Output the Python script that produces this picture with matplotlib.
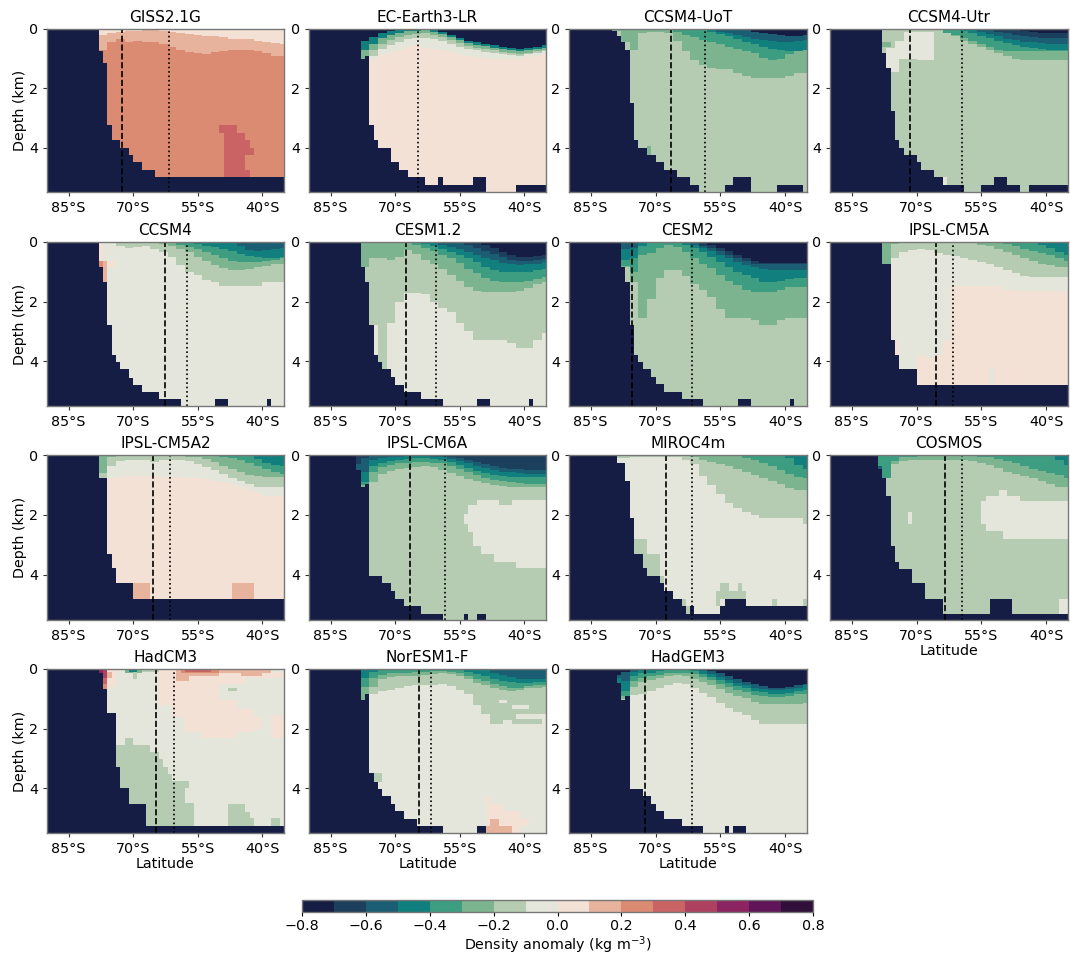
import numpy as np
import matplotlib
matplotlib.use('Agg')
import matplotlib.pyplot as plt
from matplotlib.colors import ListedColormap, BoundaryNorm

models = ['GISS2.1G', 'EC-Earth3-LR', 'CCSM4-UoT', 'CCSM4-Utr', 'CCSM4', 'CESM1.2', 'CESM2', 'IPSL-CM5A',
          'IPSL-CM5A2', 'IPSL-CM6A', 'MIROC4m', 'COSMOS', 'HadCM3', 'NorESM1-F', 'HadGEM3']
dashed = [-72.6, None, -66.4, -71.4, -62.5, -67.5, -75.5, -65.6, -65.5, -66.5, -67.5, -63.5, -64.6, -64.5, -72.5]
dotted = [-61.6, -64.6, -58.5, -59.4, -57.5, -60.5, -61.5, -61.6, -61.5, -58.5, -61.5, -59.4, -60.6, -61.6, -61.5]

bin_colors = ['#161d45', '#1b3f5c', '#1b5d72', '#117f7d', '#3c9d80', '#7cb48f', '#b6ccb2', '#e5e6db',
              '#f4e1d6', '#e7b39d', '#db8b71', '#ca6363', '#ae4060', '#8b2460', '#5f1557', '#30103a']
bin_edges = np.round(np.arange(-0.8, 0.81, 0.1), 1)
cbar_ticks = [-0.8, -0.6, -0.4, -0.2, 0.0, 0.2, 0.4, 0.6, 0.8]
xtick_vals = [-85, -70, -55, -40]
xtick_labels = ['85°S', '70°S', '55°S', '40°S']
ytick_vals = [0, 2, 4]

# layer bounds are depth (km) per 2 deg column, the last value is the column at 36S
col_lats = np.arange(-80, -34, 2)

# sea floor as (lat where it starts, depth)
giss_bed = [(-78, .75), (-77, 1.15), (-76, 3.25), (-75, 3.75), (-73, 4), (-71, 4.25), (-70, 4.5), (-68, 4.75), (-65, 5)]
giss_deep = 0.2
giss_layers = [
    (0.1, [0, .7, .42, .36, .42, .4, .43, .46, .5, .6, .72, .78, .82, .86, .78, .76, .72, .7, .73, .75, .8, .9, .93]),
    (0.0, [0, .2, .15, .1, .08, .07, .06, .06, .07, .1, .14, .17, .2, .23, .26, .28, .32, .35, .36, .4, .44, .48, .5]),
    (-0.1, [.03, .03, .03, .03, .03, .03, .03, .03, .03, .03, .03, .03]),
]
giss_patches = [(0.3, -50, -46, 3.25, 3.5), (0.3, -49, -44, 3.5, 3.75), (0.3, -49, -43, 3.75, 4), (0.3, -49, -42, 4, 4.25),
                (0.3, -49, -44, 4.25, 4.75), (0.3, -49, -43, 4.75, 5), (-0.3, -78, -76, 0, .05)]

ec_bed = [(-78, 1.02), (-77, .91), (-76, 3.25), (-75, 3.75), (-74, 4), (-71, 4.5), (-69, 4.75), (-67, 5), (-63, 5.25),
          (-60, 5), (-59, 5.25), (-52, 5), (-49, 5.5), (-42, 5.25)]
ec_deep = 0.0
ec_layers = [
    (-0.1, [0, 1.05, 1.0, .88, .82, .7, .6, .53, .62, .68, .72, .78, .85, .92, .95, .97, 1.0, 1.03, 1.03, 1.0, .95, .9, .85]),
    (-0.2, [0, 1.05, .9, .68, .55, .43, .35, .3, .3, .33, .4, .5, .6, .68, .73, .77, .8, .85, .88, .9, .85, .8, .76]),
    (-0.3, [0, 1.0, .7, .5, .38, .28, .2, .17, .16, .2, .28, .38, .48, .57, .63, .67, .72, .78, .82, .84, .79, .74, .7]),
    (-0.5, [0, .72, .5, .3, .2, .12, .08, .07, .06, .1, .17, .27, .38, .48, .54, .58, .63, .68, .73, .76, .72, .67, .63]),
    (-0.8, [0, .4, .27, .14, .07, .03, .02, .02, .02, .04, .1, .2, .3, .4, .46, .5, .55, .6, .65, .68, .64, .6, .56]),
]
ec_patches = []

uot_bed = [(-80, .07), (-79, .25), (-78, .45), (-77, .73), (-76, 2.5), (-75, 3.75), (-74, 4), (-72, 4.25), (-70, 4.5),
           (-68, 4.75), (-65, 5), (-62, 5.25), (-60, 5.5), (-54, 5.25), (-52, 5), (-48, 5.5), (-42, 5.25), (-36, 5.5)]
uot_deep = -0.2
uot_layers = [
    (-0.3, [.07, .45, .73, .12, .1, .1, .12, .4, .75, 1.05, 1.2, 1.33, 1.35, 1.35, 1.48, 1.6, 1.66, 1.66, 1.66, 1.66, 1.6, 1.47, 1.47]),
    (-0.4, [.03, .1, .2, .28, .37, .42, .5, .6, .68, .76, .82, .98, 1.04, 1.0, .85, .75, .73]),
    (-0.5, [.1, .18, .25, .33, .42, .5, .6, .68, .72, .74, .74, .73]),
    (-0.6, [.03, .06, .1, .15, .2, .27, .33, .38, .4, .42, .42, .4, .38]),
    (-0.8, [.02, .05, .1, .15, .18, .2, .22, .22, .2]),
]
uot_patches = [(-0.3, -72, -71, 3.95, 4.25)]

utr_bed = [(-78, .8), (-77, 1.31), (-76, 2.76), (-75, 3.75), (-74, 4), (-73, 4.25), (-70, 4.5), (-69, 4.75), (-66, 5),
           (-64, 5.25), (-59, 5.5), (-55, 5.25), (-52, 5), (-49, 5.25), (-46, 5.5), (-44, 5.25)]
utr_deep = -0.2
utr_layers = [
    (-0.3, [0, .05, .05, .05, .05, .05, .05, .05, .12, .25, .4, .5, .6, .7, .82, .92, 1.02, 1.05, 1.05, 1.05, 1.05, 1.05, 1.05]),
    (-0.4, [.02, .05, .12, .2, .3, .4, .5, .6, .72, .75, .75, .75, .75, .75, .75, .75, .75]),
    (-0.5, [.08, .15, .22, .3, .4, .48, .55, .6, .65, .68, .7, .72, .73]),
    (-0.6, [.05, .1, .17, .25, .32, .38, .42, .45, .47, .5, .5, .5]),
    (-0.7, [.05, .1, .15, .2, .23, .27, .3, .3, .3, .3]),
    (-0.8, [.02, .04, .07, .1, .13, .15, .15, .13]),
]
utr_patches = [(-0.1, -77, -74, .65, 1.45), (-0.1, -75, -70, .4, 1.0), (-0.1, -73, -66, .1, .85), (-0.1, -70, -66, .1, 1.05),
               (-0.3, -78, -76, .42, .6), (-0.1, -65.5, -65, 4.75, 5), (-0.1, -64, -63, 5, 5.25)]

ccsm_bed = [(-78, .85), (-77, 1.35), (-76, 2.79), (-75, 3.79), (-74, 4.02), (-73, 4.28), (-71, 4.54), (-70, 4.79), (-68, 5.03),
            (-64, 5.28), (-59, 5.5), (-51, 5.28), (-48, 5.5), (-39, 5.28), (-38, 5.5)]
ccsm_deep = -0.1
ccsm_layers = [
    (-0.2, [0, .05, .05, .12, .2, .17, .15, .22, .35, .5, .78, 1.0, 1.1, 1.28, 1.35, 1.48, 1.48, 1.48, 1.48, 1.48, 1.35, 1.35, 1.35]),
    (-0.3, [0, 0, 0, 0, 0, .03, .03, .04, .08, .15, .25, .35, .5, .65, .78, .88, .92, .92, .9, .85, .8, .75, .73]),
    (-0.4, [.1, .17, .25, .35, .45, .55, .62, .68, .68, .68, .65, .6, .56]),
    (-0.5, [.05, .08, .12, .17, .22, .3, .4, .48, .5, .52, .52, .5]),
    (-0.6, [.15, .27, .3, .28, .22, .2]),
]
ccsm_patches = [(0, -78, -77, 0, .62), (0.2, -78, -77, .62, .85), (0.1, -77, -76, .62, 1.35), (0, -76, -74, .62, .85)]

cesm12_bed = [(-78, .85), (-77, 1.35), (-76, 2.79), (-75, 3.79), (-74, 4.02), (-73, 4.28), (-71, 4.53), (-70, 4.79), (-68, 5.03),
              (-64, 5.28), (-59, 5.5), (-51, 5.28), (-48, 5.5), (-39, 5.28), (-38, 5.5)]
cesm12_deep = -0.1
cesm12_layers = [
    (-0.2, [0, 1.35, 2.8, 4.3, 2.7, 2.0, 1.7, 1.7, 1.75, 2.0, 2.2, 2.35, 2.7, 3.0, 3.28, 3.28, 3.28, 3.28, 3.4, 3.54, 3.54, 3.3, 3.05]),
    (-0.3, [0, .85, .55, .55, .6, .5, .27, .4, .6, .75, .9, 1.1, 1.3, 1.5, 1.65, 1.68, 1.68, 1.68, 1.68, 1.65, 1.55, 1.4, 1.35]),
    (-0.4, [.05, .1, .2, .3, .42, .55, .7, .9, 1.05, 1.2, 1.3, 1.35, 1.35, 1.35, 1.3, 1.22, 1.18]),
    (-0.5, [.08, .14, .22, .32, .42, .55, .68, .82, .92, 1.0, 1.0, 1.0, 1.0, .95, .9]),
    (-0.6, [.05, .1, .18, .25, .33, .42, .52, .6, .7, .75, .77, .76, .72, .68]),
    (-0.7, [.1, .2, .3, .4, .5, .6, .65, .63, .6, .58]),
    (-0.8, [.03, .1, .2, .35, .45, .5, .5, .47, .45]),
]
cesm12_patches = []

cesm2_bed = [(-78, .83), (-77, 1.34), (-76, 2.79), (-75, 3.78), (-74, 4.02), (-73, 4.27), (-71, 4.52), (-70, 4.76), (-68, 5.02),
             (-64, 5.27), (-59, 5.5), (-51, 5.27), (-48, 5.5), (-39, 5.27), (-38, 5.5)]
cesm2_deep = -0.2
cesm2_layers = [
    (-0.3, [0, .83, 1.34, 2.54, 1.9, 1.2, .95, .95, 1.15, 1.4, 1.6, 1.85, 2.25, 2.54, 2.54, 2.54, 2.6, 2.79, 2.79, 2.6, 2.54, 2.54, 2.54]),
    (-0.4, [0, .8, 1.0, .42, .38, .2, .1, .18, .35, .55, .72, .88, 1.1, 1.3, 1.45, 1.6, 1.67, 1.67, 1.67, 1.62, 1.5, 1.5, 1.5]),
    (-0.5, [0, .6, .55, .15, .05, .03, .03, .05, .1, .2, .35, .5, .68, .85, 1.0, 1.1, 1.2, 1.34, 1.34, 1.3, 1.22, 1.2, 1.19]),
    (-0.6, [0, .25, .2, 0, 0, 0, 0, 0, .05, .1, .2, .3, .42, .55, .68, .78, .85, .9, .94, .94, .94, .94, .94]),
    (-0.7, [.05, .12, .2, .3, .42, .55, .66, .72, .72, .72, .72, .72, .72, .72]),
    (-0.8, [.02, .05, .1, .2, .3, .42, .55, .66, .7, .7, .7, .7, .7, .7]),
]
cesm2_patches = []

cm5a_bed = [(-78, .76), (-76, 3.28), (-75, 3.79), (-74, 4.28), (-70, 4.79)]
cm5a_deep = 0.0
cm5a_layers = [
    (-0.1, [0, .76, 3.28, 4.3, 4.3, 3.8, 3.9, 3.8, 3.3, 1.48, 1.48, 1.48, 1.48, 1.48, 1.48, 1.6, 1.66, 1.66, 1.66, 1.66, 1.66, 1.66, 1.66]),
    (-0.2, [0, .76, .55, .35, .28, .25, .28, .38, .42, .48, .55, .6, .68, .75, .85, .95, 1.03, 1.13, 1.18, 1.18, 1.18, 1.18, 1.18]),
    (-0.3, [0, .76, .08, .05, .04, .03, .03, .03, .03, .03, .04, .05, .1, .13, .22, .32, .42, .55, .65, .72, .78, .82, .84]),
    (-0.4, [.02, .08, .15, .23, .3, .38, .45, .55, .62]),
    (-0.5, [.02, .1, .2, .33, .45]),
]
cm5a_patches = [(-0.1, -53, -52, 4.28, 4.78)]

cm5a2_bed = [(-78, .75), (-76, 3.29), (-75, 3.77), (-74, 4.28), (-70, 4.79)]
cm5a2_deep = 0.0
cm5a2_layers = [
    (-0.1, [0, .75, .75, .72, .7, .7, .7, .7, .72, .73, .73, .74, .76, .8, .85, .9, .97, 1.05, 1.15, 1.25, 1.35, 1.35, 1.35]),
    (-0.2, [0, .75, .35, .2, .17, .15, .17, .22, .18, .14, .15, .2, .3, .4, .5, .62, .74, .85, .95, 1.05, 1.07, 1.07, 1.07]),
    (-0.3, [0, .6, .05, .03, .03, .03, .03, .03, .02, .02, .03, .05, .08, .13, .22, .35, .47, .58, .65, .7, .73, .73, .73]),
    (-0.4, [.05, .1, .18, .27, .37, .48, .55, .62]),
    (-0.5, [.03, .12, .25, .33, .35]),
]
cm5a2_patches = [(0.1, -70, -66, 4.28, 4.79), (0.1, -47, -42, 4.28, 4.79)]

cm6a_bed = [(-79, .5), (-78, 1.07), (-77, .95), (-76, 4.02), (-73, 4.28), (-71, 4.53), (-70, 4.79), (-68, 5.03), (-64, 5.29),
            (-59, 5.5), (-54, 5.29), (-53, 5.5), (-51, 5.29), (-49, 5.5)]
cm6a_deep = -0.2
cm6a_layers = [
    (-0.3, [.5, 1.07, .9, .62, .52, .45, .42, .39, .38, .4, .5, .6, .7, .8, .88, .93, 1.0, 1.03, 1.05, 1.05, 1.07, 1.07, 1.07]),
    (-0.4, [.5, 1.0, .55, .4, .33, .28, .25, .22, .22, .24, .28, .36, .47, .58, .68, .77, .83, .87, .9, .92, .94, .95, .95]),
    (-0.5, [.5, .9, .35, .25, .2, .15, .12, .1, .1, .12, .16, .23, .33, .43, .52, .6, .68, .7, .72, .72, .73, .73, .73]),
    (-0.6, [.5, .55, .15, .1, .07, .05, .03, .03, .03, .04, .07, .12, .2, .28, .37, .43, .5, .55, .57, .6, .62, .62, .62]),
    (-0.7, [.3, .1, .03, .02, 0, 0, 0, 0, 0, .01, .02, .05, .1, .15, .22, .3, .38, .42, .45, .48, .5, .5, .5]),
]
cm6a_patches = [(-0.1, -53, -35, 1.68, 2.55), (-0.1, -54, -53, 1.95, 2.3), (-0.1, -51, -46, 1.5, 1.68), (-0.1, -43, -35, 1.5, 1.68),
                (-0.1, -52, -35, 2.55, 3.03), (-0.1, -50, -35, 3.03, 3.3), (-0.1, -47, -35, 3.3, 3.55), (-0.1, -42, -35, 3.55, 3.78)]

miroc_bed = [(-79, .28), (-77, .84), (-76, 2.1), (-75, 3.29), (-73, 3.78), (-72, 4.02), (-69, 4.28), (-68, 4.53), (-66, 4.79),
             (-64, 5.03), (-63, 5.29), (-62, 5.03), (-61, 5.29), (-55, 5.03), (-54, 4.79), (-49, 5.03)]
miroc_deep = -0.1
miroc_layers = [
    (-0.2, [.1, .1, .08, .07, .06, .06, .05, .06, .15, .3, .7, 1.0, 1.3, 1.6, 1.78, 1.9, 2.0, 2.1, 2.1, 2.1, 2.1, 2.1, 2.3]),
    (-0.3, [.08, .15, .22, .3, .38, .45, .55, .65, .75, .85, .98, 1.1, 1.18, 1.18]),
    (-0.4, [.1, .18, .28, .38, .5, .62, .72, .78]),
    (-0.5, [.1, .33, .47]),
]
miroc_patches = [(-0.2, -75, -72, 2.8, 3.29), (-0.2, -73, -69, 3.29, 4.02), (-0.2, -69, -68, 4.02, 4.28), (-0.2, -64, -63, 4.79, 5.03),
                 (-0.2, -63, -62, 5.03, 5.29), (-0.2, -55, -53, 4.28, 4.79), (-0.2, -51, -50, 4.28, 4.79), (-0.2, -56, -49, 4.53, 4.79),
                 (-0.2, -56, -55, 4.79, 5.03), (-0.2, -43, -42, 4.79, 5.03), (-0.2, -36, -35, 4.79, 5.03)]

cosmos_bed = [(-79, .45), (-78, .75), (-77, 1.35), (-76, 3.03), (-75, 3.54), (-74, 3.79), (-71, 4.28), (-68, 4.79), (-64, 5.29),
              (-53, 4.79), (-48, 5.29)]
cosmos_deep = -0.2
cosmos_layers = [
    (-0.3, [.45, .75, .3, .2, .17, .16, .16, .17, .16, .15, .17, .2, .27, .33, .42, .55, .63, .7, .78, .87, .97, 1.05, 1.05]),
    (-0.4, [.45, .75, .2, .05, .04, .03, .03, .03, .02, .02, .03, .03, .05, .08, .13, .2, .28, .38, .45, .52, .6, .68, .75]),
    (-0.5, [.03, .15, .33]),
]
cosmos_patches = [(-0.1, -54, -35, 1.52, 2.53), (-0.1, -54, -46, 1.35, 1.52), (-0.1, -51, -49, 1.18, 1.35), (-0.1, -55, -54, 1.52, 2.3),
                  (-0.1, -50, -35, 2.53, 2.79), (-0.1, -72, -71, 1.9, 2.3), (-0.1, -37, -35, 4.79, 5.29), (-0.6, -79, -78, .35, .45)]

hadcm_bed = [(-78, .15), (-77, .67), (-76, 1.48), (-74, 3.28), (-73, 4.0), (-71, 4.52), (-67, 5.26)]
hadcm_deep = -0.1
hadcm_layers = []
hadcm_patches = [(-0.2, -74, -72, 2.55, 4.6), (-0.2, -72, -70, 2.3, 4.6), (-0.2, -70, -66, 2.55, 5.3), (-0.2, -66, -64, 2.8, 5.3),
                 (-0.2, -64, -63, 3.03, 5.3), (-0.2, -63, -62, 3.28, 5.3), (-0.2, -62, -61, 3.52, 5.3), (-0.2, -61, -58, 3.76, 5.3),
                 (-0.2, -58, -57, 3.76, 4.0), (-0.2, -58, -56, 4.5, 5.3), (-0.2, -48, -44, 4.52, 5.3), (-0.2, -44, -43, 4.8, 5.3),
                 (-0.2, -43, -42, 5.0, 5.3), (-0.2, -38, -36, 5.0, 5.3), (-0.2, -48, -46, .62, .75),
                 (0, -64, -61, .05, 1.2), (0, -61, -58, .05, 1.6), (0, -58, -54, .05, 2.1), (0, -54, -50, .1, 2.3), (0, -50, -46, 1.05, 2.3),
                 (0, -46, -42, 1.35, 2.1), (0, -42, -40, 1.6, 2.0), (0, -38, -35, 1.55, 2.3), (0, -50, -35, .1, .3), (0, -50, -44, .3, .5),
                 (0, -76, -74, .05, .6), (0.1, -60, -57, 0, .4), (0.1, -57, -50, 0, .25), (0.1, -50, -45, 0, .12), (0.1, -45, -40, 0, .22),
                 (0.1, -40, -38, .05, .15), (0.2, -59, -50, 0, .15), (0.3, -58, -52, 0, .1), (0.1, -76, -75, .1, .3),
                 (-0.2, -72, -64, 0, .1), (-0.3, -72, -68, 0, .12), (-0.5, -71, -69, 0, .1), (-0.2, -70, -69, .1, .35),
                 (0.5, -78, -77, 0, .15), (0.4, -77, -76, 0, .3), (0.3, -77, -76, .3, .5), (0.2, -77, -76, .5, .67)]

nor_bed = [(-78, 1.04), (-77, .84), (-76, 3.5), (-75, 3.78), (-74, 4.02), (-73, 4.27), (-71, 4.52), (-70, 4.78), (-68, 5.02),
           (-65, 5.27), (-59, 5.5), (-51, 5.27), (-49, 5.5)]
nor_deep = -0.1
nor_layers = [
    (-0.2, [0, 1.04, .82, .75, .7, .62, .58, .56, .55, .54, .5, .58, .7, .85, 1.2, 1.5, 1.85, 1.85, 1.85, 1.85, 1.85, 1.85, 1.5]),
    (-0.3, [0, 1.03, .6, .35, .28, .25, .23, .22, .2, .17, .15, .17, .25, .35, .47, .55, .65, .7, .72, .7, .66, .62, .6]),
    (-0.4, [0, .6, .3, .2, .15, .14, .12, .1, .09, .08, .07, .09, .13, .22, .33, .4, .5, .57, .62, .62, .58, .55, .52]),
    (-0.5, [0, .3, .1, .05, .04, .03, .03, .03, .02, .02, .02, .03, .05, .1, .18, .25, .33, .4, .45, .48, .47, .44, .43]),
    (-0.6, [.05, .12, .2, .27, .32, .33, .33, .33]),
]
nor_patches = [(0, -49, -48, 4.27, 5.5), (0, -48, -45, 4.52, 5.5), (0, -45, -41, 4.78, 5.5), (0, -41, -39, 5.02, 5.27),
               (0.1, -49, -43, 5.27, 5.5), (0.1, -48, -46, 5.02, 5.27), (-0.2, -75, -73, 3.5, 3.78),
               (-0.1, -46, -44, 1.03, 1.15), (-0.1, -43, -39, 1.2, 1.32), (-0.1, -42, -36, 1.5, 1.67), (-0.1, -45, -43, 1.7, 1.85)]

hadgem_bed = [(-79, .48), (-78, 1.04), (-77, .9), (-76, 4.02), (-73, 4.27), (-71, 4.52), (-70, 4.78), (-68, 5.02), (-64, 5.27),
              (-59, 5.5), (-54, 5.27), (-53, 5.5), (-52, 5.27), (-49, 5.5)]
hadgem_deep = -0.1
hadgem_layers = [
    (-0.2, [.48, 1.04, .88, .82, .72, .62, .52, .47, .5, .62, .8, .95, 1.15, 1.3, 1.45, 1.55, 1.7, 1.85, 1.85, 1.85, 1.85, 1.85, 1.85]),
    (-0.3, [.48, 1.0, .6, .45, .38, .3, .25, .2, .22, .32, .45, .55, .68, .8, .9, .98, 1.1, 1.17, 1.17, 1.17, 1.17, 1.17, 1.15]),
    (-0.4, [.48, .9, .4, .3, .25, .2, .16, .12, .13, .18, .28, .38, .5, .6, .7, .78, .87, .9, .92, .92, .9, .86, .82]),
    (-0.5, [.48, .75, .25, .15, .12, .08, .05, .04, .05, .08, .17, .27, .37, .47, .57, .65, .72, .78, .82, .82, .8, .74, .7]),
    (-0.6, [.3, .4, .1, .05, .02, .02, 0, 0, 0, .02, .08, .17, .27, .37, .47, .55, .62, .67, .7, .7, .68, .62, .55]),
    (-0.8, [.2, .1, .05, .02, .02, .01, 0, 0, 0, 0, .02, .08, .16, .25, .33, .42, .5, .58, .63, .63, .6, .55, .5]),
]
hadgem_patches = []

beds = [giss_bed, ec_bed, uot_bed, utr_bed, ccsm_bed, cesm12_bed, cesm2_bed, cm5a_bed, cm5a2_bed, cm6a_bed, miroc_bed, cosmos_bed,
        hadcm_bed, nor_bed, hadgem_bed]
deeps = [giss_deep, ec_deep, uot_deep, utr_deep, ccsm_deep, cesm12_deep, cesm2_deep, cm5a_deep, cm5a2_deep, cm6a_deep, miroc_deep,
         cosmos_deep, hadcm_deep, nor_deep, hadgem_deep]
layers = [giss_layers, ec_layers, uot_layers, utr_layers, ccsm_layers, cesm12_layers, cesm2_layers, cm5a_layers, cm5a2_layers,
          cm6a_layers, miroc_layers, cosmos_layers, hadcm_layers, nor_layers, hadgem_layers]
patches = [giss_patches, ec_patches, uot_patches, utr_patches, ccsm_patches, cesm12_patches, cesm2_patches, cm5a_patches, cm5a2_patches,
           cm6a_patches, miroc_patches, cosmos_patches, hadcm_patches, nor_patches, hadgem_patches]

lat_edges = np.arange(-90, -34, 1.0)
z_edges = np.arange(0, 5.5001, 0.025)
lat_mid = 0.5*(lat_edges[1:] + lat_edges[:-1])
z_mid = 0.5*(z_edges[1:] + z_edges[:-1])


def build_field(bed, deep, lays, pats):
    field = np.full((len(z_mid), len(lat_mid)), deep + 0.05)
    for val, bound in lays:
        bound = [0]*(len(col_lats) - len(bound)) + list(bound)
        for lat0, b in zip(col_lats, bound):
            col = (lat_mid > lat0) & (lat_mid < lat0 + 2)
            field[np.ix_(z_mid < b, col)] = val + 0.05
    for val, la, lb, za, zb in pats:
        col = (lat_mid > la) & (lat_mid < lb)
        row = (z_mid > za) & (z_mid < zb)
        field[np.ix_(row, col)] = val + 0.05
    # everything under the sea floor and west of the first column is land
    floor = np.zeros(len(lat_mid))
    for lat0, d in bed:
        floor[lat_mid > lat0] = d
    for j in range(len(lat_mid)):
        field[z_mid > floor[j], j] = -0.75
    return field


W, H = 1070, 960
cols_px = [(47, 284), (309, 546), (569, 807), (830, 1068)]
rows_px = [(29, 192), (242, 406), (455, 620), (669, 833)]

plt.rcParams['font.size'] = 10.3
cmap = ListedColormap(bin_colors)
norm = BoundaryNorm(bin_edges, cmap.N)

fig = plt.figure(figsize=(W/100, H/100), dpi=100)
for i, name in enumerate(models):
    r, c = i//4, i % 4
    x0, x1 = cols_px[c]
    y0, y1 = rows_px[r]
    ax = fig.add_axes([x0/W, 1 - y1/H, (x1 - x0)/W, (y1 - y0)/H])
    field = build_field(beds[i], deeps[i], layers[i], patches[i])
    mesh = ax.pcolormesh(lat_edges, z_edges, field, cmap=cmap, norm=norm, shading='flat', antialiased=False, rasterized=True)
    if dashed[i] is not None:
        ax.axvline(dashed[i], color='k', ls='--', lw=1.2)
    ax.axvline(dotted[i], color='k', ls=':', lw=1.2)
    ax.set_xlim(-90, -35)
    ax.set_ylim(5.5, 0)
    ax.set_xticks(xtick_vals)
    ax.set_xticklabels(xtick_labels)
    ax.set_yticks(ytick_vals)
    ax.tick_params(length=3, width=0.8, color='#333333')
    for s in ax.spines.values():
        s.set_color('#777777')
        s.set_linewidth(1)
    ax.set_title(name, fontsize=11, pad=5)
    if c == 0:
        ax.set_ylabel('Depth (km)', labelpad=1)
    if r == 3 or i == 11:
        ax.set_xlabel('Latitude', labelpad=1)

cax = fig.add_axes([302/W, 1 - 911.5/H, 511/W, 12/H])
cb = fig.colorbar(mesh, cax=cax, orientation='horizontal', ticks=cbar_ticks)
cb.minorticks_off()
cb.set_label('Density anomaly (kg m$^{-3}$)', labelpad=1)
cb.ax.tick_params(length=3, width=0.8, pad=2.5)
cb.outline.set_edgecolor('#777777')
cb.outline.set_linewidth(1)

fig.savefig('out.png', dpi=100)
